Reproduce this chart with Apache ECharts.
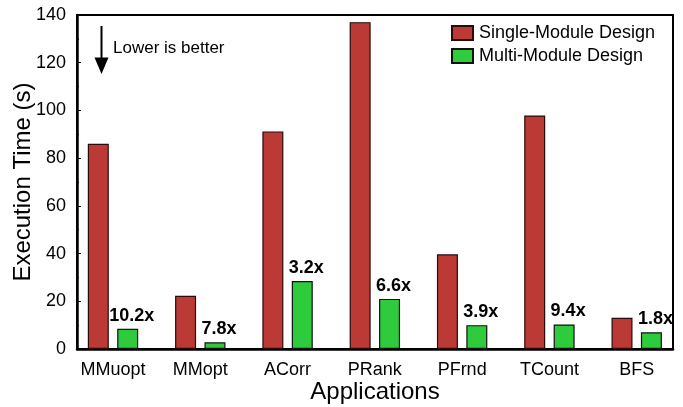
<!DOCTYPE html>
<html>
<head>
<meta charset="utf-8">
<script src="https://cdn.jsdelivr.net/npm/echarts@6/dist/echarts.min.js"></script>
<style>html,body{margin:0;padding:0;background:#fff}#c{width:683px;height:407px}</style>
</head>
<body>
<div id="c"></div>
<script>
var categories = ['MMuopt', 'MMopt', 'ACorr', 'PRank', 'PFrnd', 'TCount', 'BFS'];
var singleModule = [86, 22.3, 91.2, 137, 39.7, 97.9, 13.1];
var multiModule = [8.5, 2.8, 28.5, 21, 10, 10.3, 7];
var speedupLabels = ['10.2x', '7.8x', '3.2x', '6.6x', '3.9x', '9.4x', '1.8x'];
var yTicks = [0, 20, 40, 60, 80, 100, 120, 140];

var FONT = 'Liberation Sans, Arial, Helvetica, sans-serif';
var chart = echarts.init(document.getElementById('c'), null, {renderer: 'canvas'});
var option = {
  animation: false,
  textStyle: {fontFamily: FONT},
  grid: [
    {left: 77, right: 10, top: 15, bottom: 58, outerBoundsMode: 'none', containLabel: false,
     show: true, borderColor: '#000', borderWidth: 2, backgroundColor: 'transparent'},
    {left: 69.35, right: 2.65, top: 15, bottom: 58, outerBoundsMode: 'none', containLabel: false}
  ],
  xAxis: [
    {gridIndex: 0, type: 'category', data: categories, axisLabel: {show: false}, axisTick: {show: false},
     axisLine: {lineStyle: {color: '#000', width: 2.5}},
     name: 'Applications', nameLocation: 'middle', nameGap: 31, nameMoveOverlap: false,
     nameTextStyle: {fontSize: 24, color: '#000', fontFamily: FONT}},
    {gridIndex: 1, type: 'category', data: categories, axisLine: {show: false}, axisTick: {show: false},
     axisLabel: {fontSize: 18, color: '#000', margin: 12, fontFamily: FONT}}
  ],
  yAxis: [
    {gridIndex: 0, type: 'value', min: yTicks[0], max: yTicks[yTicks.length - 1], interval: 20,
     axisLine: {show: true, lineStyle: {color: '#000', width: 2.5}},
     axisTick: {show: true, inside: true, length: 4, lineStyle: {color: '#000', width: 1}},
     minorTick: {show: true, splitNumber: 2, length: 2, lineStyle: {color: '#000'}},
     splitLine: {show: false},
     axisLabel: {fontSize: 18, color: '#000', margin: 11, fontFamily: FONT},
     name: 'Execution Time (s)', nameLocation: 'middle', nameGap: 42, nameMoveOverlap: false,
     nameTextStyle: {fontSize: 24, color: '#000', fontFamily: FONT}},
    {gridIndex: 1, type: 'value', min: yTicks[0], max: yTicks[yTicks.length - 1], show: false}
  ],
  legend: {
    orient: 'vertical', left: 451, top: 24, padding: 0, itemWidth: 21, itemHeight: 14, itemGap: 5,
    icon: 'rect',
    textStyle: {fontSize: 18, color: '#000', fontFamily: FONT, lineHeight: 18, padding: [0, 0, 0, 1]},
    data: ['Single-Module Design', 'Multi-Module Design']
  },
  series: [
    {name: 'Single-Module Design', type: 'bar', xAxisIndex: 1, yAxisIndex: 1, data: singleModule,
     barWidth: 21, barGap: '40%',
     itemStyle: {color: '#bb3a35', borderColor: '#2a0a0a', borderWidth: 1.2}},
    {name: 'Multi-Module Design', type: 'bar', xAxisIndex: 1, yAxisIndex: 1, data: multiModule,
     barWidth: 21,
     itemStyle: {color: '#2ecb3c', borderColor: '#111', borderWidth: 1.2},
     label: {show: true, position: 'top', distance: 4, offset: [4, 0], fontSize: 18, fontWeight: 'bold',
       color: '#000', fontFamily: FONT,
       formatter: function (p) { return speedupLabels[p.dataIndex]; }}}
  ],
  graphic: [
    {type: 'line', shape: {x1: 101.5, y1: 26, x2: 101.5, y2: 60}, style: {stroke: '#000', lineWidth: 2}},
    {type: 'polygon', shape: {points: [[94.5, 57.5], [108.5, 57.5], [101.5, 74]]}, style: {fill: '#000'}},
    {type: 'text', left: 113, top: 40, style: {text: 'Lower is better', fontSize: 17, fill: '#000', font: '17px ' + FONT}}
  ]
};
chart.setOption(option);
</script>
</body>
</html>
